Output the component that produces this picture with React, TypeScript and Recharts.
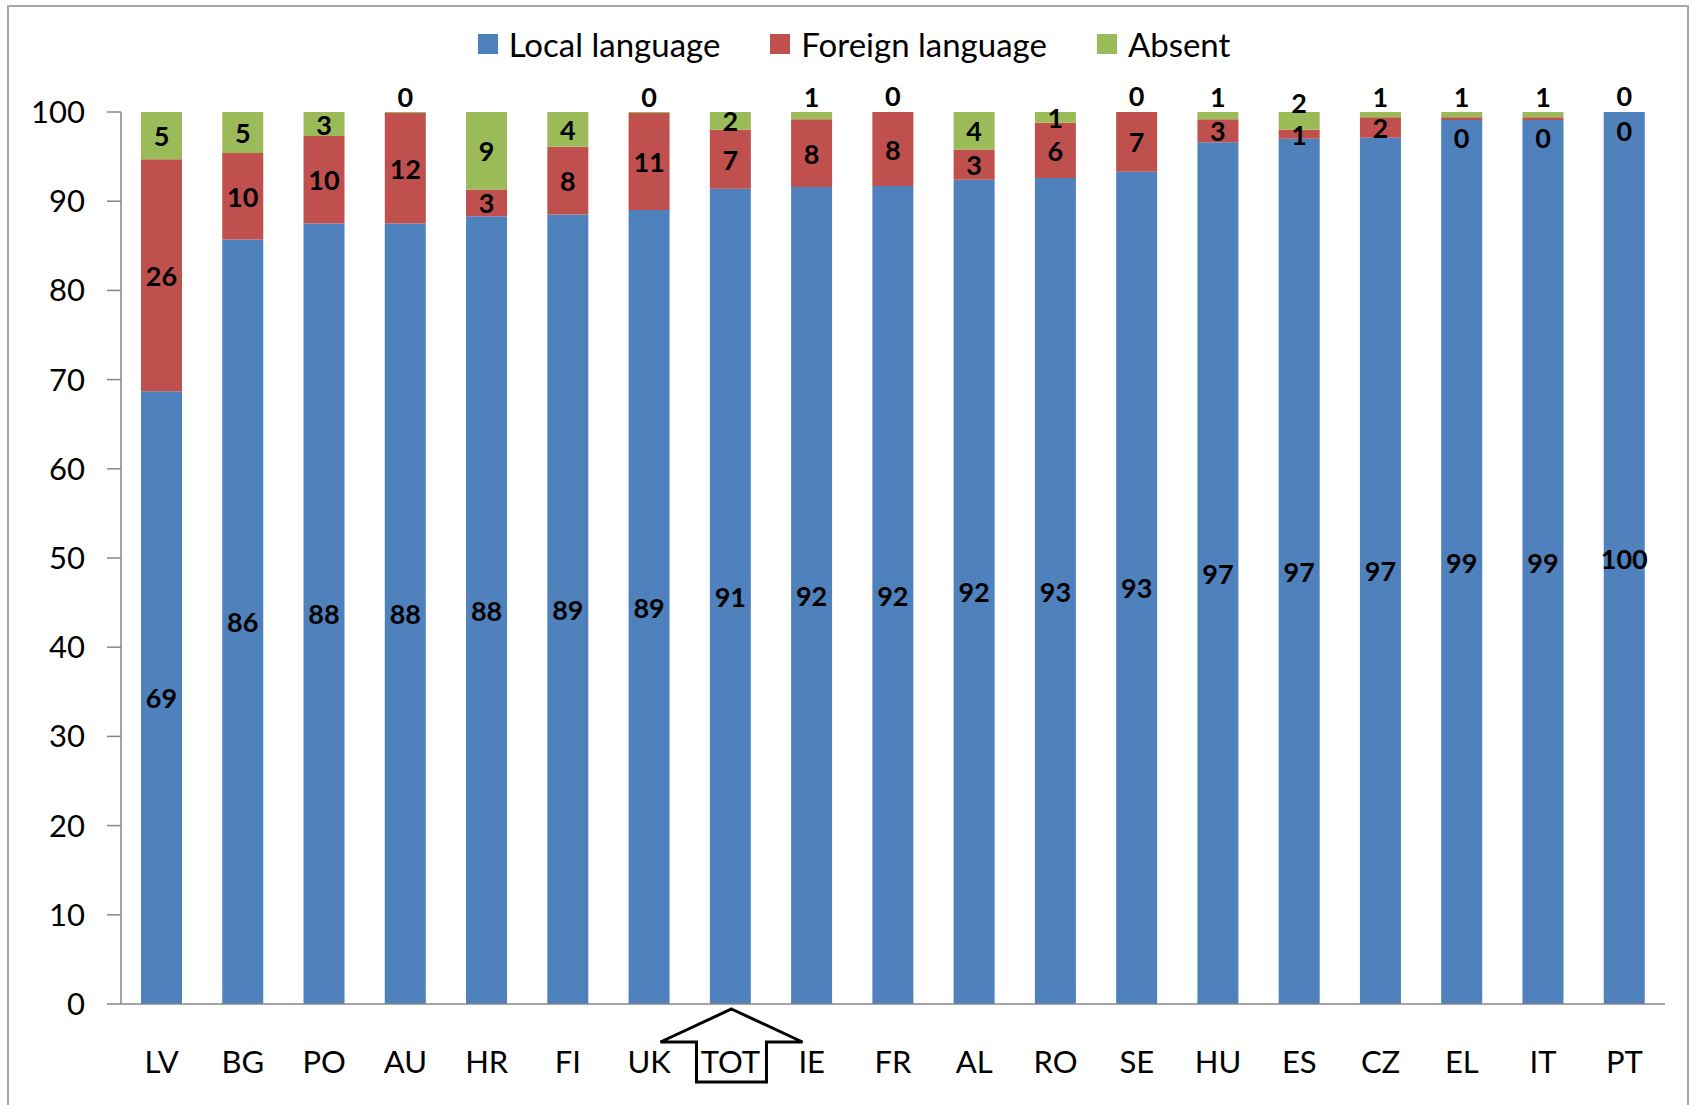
import React from 'react';
import { BarChart, Bar, XAxis, YAxis, Legend, LabelList } from 'recharts';

// Country codes in the order shown
const countries = ['LV', 'BG', 'PO', 'AU', 'HR', 'FI', 'UK', 'TOT', 'IE', 'FR', 'AL', 'RO', 'SE', 'HU', 'ES', 'CZ', 'EL', 'IT', 'PT'];

// Shares (%); labels show them rounded
const localLanguage = [68.7, 85.7, 87.5, 87.5, 88.3, 88.5, 89.0, 91.4, 91.6, 91.7, 92.4, 92.6, 93.3, 96.6, 97.0, 97.1, 99.1, 99.1, 100];
const foreignLanguage = [26.0, 9.7, 9.8, 12.4, 3.0, 7.6, 10.9, 6.6, 7.6, 8.3, 3.4, 6.2, 6.7, 2.6, 1.0, 2.3, 0.3, 0.3, 0];
const absent = [5.3, 4.6, 2.7, 0.1, 8.7, 3.9, 0.1, 2.0, 0.8, 0, 4.2, 1.2, 0, 0.8, 2.0, 0.6, 0.6, 0.6, 0];

const yTicks = [0, 10, 20, 30, 40, 50, 60, 70, 80, 90, 100];

const COLORS = { local: '#4F81BD', foreign: '#C0504D', absent: '#9BBB59' };
const FONT = 'Lato, "Open Sans", sans-serif';
const PLOT_H = 892; // pixel height of the 0..100 range

const data = countries.map((c, i) => ({
  country: c,
  local: localLanguage[i],
  foreign: foreignLanguage[i],
  absent: absent[i],
}));

// where the foreign-language label sits, given the top of that segment
const foreignCenter = (top: number, h: number) => (h < 6 ? top + h / 2 + 19 : top + h / 2);

// segment labels, centred; tiny segments get nudged like Excel does
const makeLabel = (kind: 'local' | 'foreign' | 'absent') => (props: any) => {
  const { x, y, width, height, value, index } = props;
  const w = Number(width);
  const h = Math.abs(Number(height));
  const top = Math.min(Number(y), Number(y) + Number(height));
  let cy = top + h / 2;
  if (kind === 'foreign') cy = foreignCenter(top, h);
  if (kind === 'absent') {
    if (h < 10) {
      cy = top - 16;
    } else {
      const fh = (foreignLanguage[index] / 100) * PLOT_H;
      const fc = foreignCenter(top + h, fh);
      if (cy > fc - 32) cy = fc - 32;
    }
  }
  return (
    <text
      x={Number(x) + w / 2}
      y={cy}
      textAnchor="middle"
      dominantBaseline="central"
      fontFamily={FONT}
      fontWeight={700}
      fontSize={27}
      fill="#000"
    >
      {Math.round(Number(value))}
    </text>
  );
};

const CountryTick = (props: any) => {
  const { x, y, payload } = props;
  return (
    <g>
      <text x={x} y={y + 69} textAnchor="middle" fontFamily={FONT} fontSize={31} fill="#000">
        {payload.value}
      </text>
      {payload.value === 'TOT' && (
        <path
          d={`M${x + 1},${y + 5} L${x + 72},${y + 38} L${x + 36},${y + 38} L${x + 36},${y + 78} L${x - 34},${y + 78} L${x - 34},${y + 38} L${x - 70},${y + 38} Z`}
          fill="none"
          stroke="#000"
          strokeWidth={3}
          strokeLinejoin="miter"
        />
      )}
    </g>
  );
};

const legendItems = [
  { label: 'Local language', color: COLORS.local },
  { label: 'Foreign language', color: COLORS.foreign },
  { label: 'Absent', color: COLORS.absent },
];

const LegendContent = () => (
  <div style={{ display: 'flex', justifyContent: 'center', alignItems: 'center', fontFamily: FONT, fontSize: 33, color: '#000', paddingLeft: 16 }}>
    {legendItems.map((it, i) => (
      <div key={it.label} style={{ display: 'flex', alignItems: 'center', marginLeft: i === 0 ? 0 : 50 }}>
        <span style={{ display: 'inline-block', width: 20, height: 20, background: it.color, marginRight: 11 }} />
        <span>{it.label}</span>
      </div>
    ))}
  </div>
);

export default function App() {
  return (
    <div style={{ position: 'absolute', left: 0, top: 0, width: 1692, height: 1105, background: '#fff', overflow: 'hidden' }}>
      <div style={{ position: 'absolute', left: 7, top: 5, width: 1682, height: 1120, border: '2px solid #a6a6a6', boxSizing: 'border-box' }} />
      <div style={{ position: 'absolute', left: 0, top: 0 }}>
        <BarChart width={1692} height={1105} data={data} margin={{ top: 112, right: 27, left: 0, bottom: 11 }} barSize={41}>
          <Legend
            verticalAlign="middle"
            align="center"
            layout="horizontal"
            content={<LegendContent />}
            wrapperStyle={{ top: 24, left: 0, width: 1692 }}
          />
          <XAxis
            dataKey="country"
            height={90}
            tickLine={false}
            tickSize={0}
            tickMargin={0}
            axisLine={{ stroke: '#868686', strokeWidth: 1.5 }}
            tick={<CountryTick />}
            interval={0}
          />
          <YAxis
            width={121}
            domain={[0, 100]}
            ticks={yTicks}
            allowDataOverflow
            tickSize={14}
            tickMargin={22}
            axisLine={{ stroke: '#868686', strokeWidth: 1.5 }}
            tickLine={{ stroke: '#868686', strokeWidth: 1.5 }}
            tick={{ fontSize: 31, fill: '#000', fontFamily: FONT }}
          />
          <Bar dataKey="local" stackId="s" fill={COLORS.local} isAnimationActive={false}>
            <LabelList dataKey="local" content={makeLabel('local')} />
          </Bar>
          <Bar dataKey="foreign" stackId="s" fill={COLORS.foreign} minPointSize={0.01} isAnimationActive={false}>
            <LabelList dataKey="foreign" content={makeLabel('foreign')} />
          </Bar>
          <Bar dataKey="absent" stackId="s" fill={COLORS.absent} minPointSize={0.01} isAnimationActive={false}>
            <LabelList dataKey="absent" content={makeLabel('absent')} />
          </Bar>
        </BarChart>
      </div>
    </div>
  );
}
